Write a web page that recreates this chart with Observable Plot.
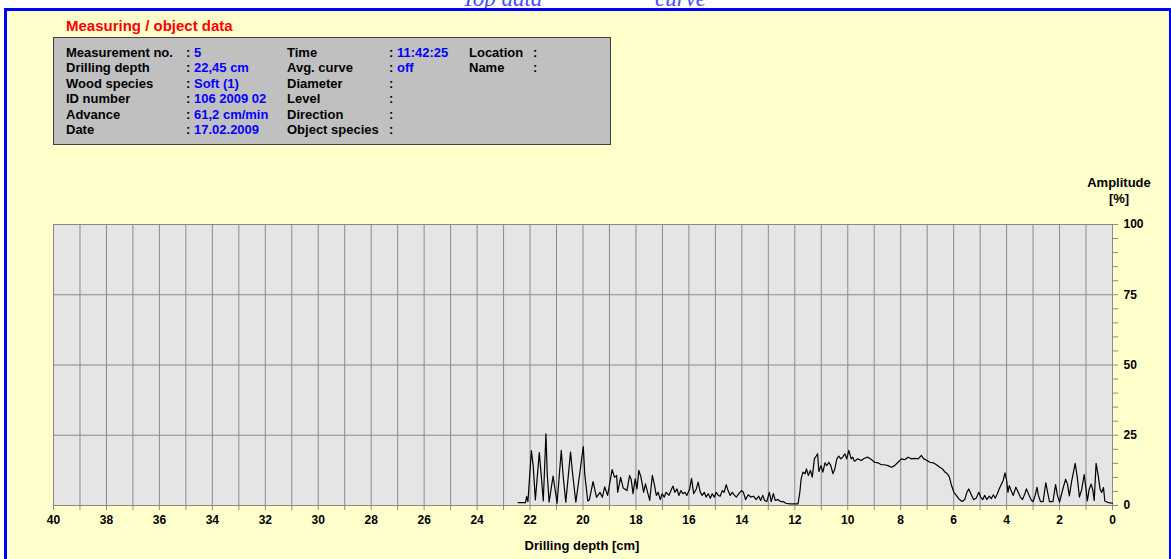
<!DOCTYPE html>
<html>
<head>
<meta charset="utf-8">
<script src="https://cdn.jsdelivr.net/npm/d3@7"></script>
<script src="https://cdn.jsdelivr.net/npm/@observablehq/plot@0.6"></script>
<style>
  html, body { margin: 0; padding: 0; background: #fff; }
  #page { position: relative; width: 1171px; height: 559px; overflow: hidden; background: #fff;
          font-family: "Liberation Sans", Arial, sans-serif; font-weight: bold; }
  #header { position: absolute; top: -13px; left: 0; width: 100%; font-family: "Liberation Serif", "Times New Roman", serif;
            font-style: italic; font-weight: normal; font-size: 23px; line-height: 23px; color: #4a4aff; white-space: nowrap; }
  #header span { position: absolute; }
  #panel { position: absolute; left: 4px; top: 8px; right: 0; bottom: -4px; background: #ffffcc;
           border-left: 3px solid #0000ff; border-top: 3px solid #0000ff; border-right: 2px solid #0000ff; }
  #chart { position: absolute; left: 0; top: 0; }
  #title { position: absolute; left: 66px; top: 17px; font-size: 15px; line-height: 18px; color: #ff0000; }
  #infobox { position: absolute; left: 53px; top: 37px; width: 556px; height: 106px; background: #c0c0c0;
             border: 1px solid #404040; }
  .col { position: absolute; top: 45px; font-size: 13px; line-height: 15.4px; white-space: pre; color: #000; }
  .col.val { color: #0000ff; }
  .axlabel { position: absolute; font-size: 13px; line-height: 15px; color: #000; text-align: center; white-space: nowrap; }
</style>
</head>
<body>
<div id="page">
  <div id="header"></div>
  <div id="panel"></div>
  <div id="chart"></div>
  <div id="title"></div>
  <div id="infobox"></div>
</div>
<script>
// Drilling resistance profile: depth (cm) and amplitude (%) at the turning points of the curve
const depthCm = [
  22.45, 22.17, 22.13, 22.08, 21.95, 21.88, 21.80, 21.65, 21.58, 21.50, 21.40, 21.35, 21.28, 21.13, 20.98,
  20.82, 20.75, 20.65, 20.47, 20.40, 20.27, 20.10, 19.99, 19.93, 19.82, 19.76, 19.62, 19.49, 19.36, 19.27,
  19.18, 19.07, 18.96, 18.90, 18.81, 18.73, 18.69, 18.58, 18.48, 18.34, 18.24, 18.18, 18.11, 18.03, 17.96,
  17.89, 17.81, 17.71, 17.64, 17.56, 17.48, 17.38, 17.31, 17.23, 17.16, 17.08, 17.01, 16.93, 16.86, 16.75,
  16.68, 16.60, 16.53, 16.45, 16.38, 16.30, 16.23, 16.15, 16.08, 15.97, 15.90, 15.82, 15.72, 15.65, 15.57,
  15.50, 15.42, 15.35, 15.27, 15.19, 15.12, 15.04, 14.97, 14.89, 14.82, 14.74, 14.67, 14.59, 14.52, 14.44,
  14.36, 14.29, 14.21, 14.11, 14.01, 13.94, 13.86, 13.76, 13.66, 13.56, 13.46, 13.36, 13.29, 13.21, 13.14,
  13.06, 12.96, 12.89, 12.81, 12.74, 12.64, 12.54, 12.44, 12.34, 12.19, 12.00, 11.88, 11.81, 11.76, 11.69,
  11.61, 11.56, 11.49, 11.41, 11.34, 11.26, 11.19, 11.14, 11.09, 11.01, 10.94, 10.86, 10.79, 10.71, 10.64,
  10.56, 10.49, 10.41, 10.34, 10.26, 10.19, 10.11, 10.04, 9.96, 9.87, 9.81, 9.75, 9.62, 9.49, 9.37,
  9.24, 9.11, 8.99, 8.86, 8.73, 8.61, 8.48, 8.35, 8.23, 8.10, 7.97, 7.85, 7.72, 7.59, 7.47,
  7.34, 7.22, 7.13, 7.00, 6.90, 6.77, 6.65, 6.52, 6.42, 6.33, 6.24, 6.16, 6.08, 5.99, 5.88,
  5.78, 5.68, 5.58, 5.50, 5.43, 5.35, 5.25, 5.15, 5.05, 4.98, 4.90, 4.83, 4.75, 4.65, 4.58,
  4.50, 4.43, 4.35, 4.28, 4.19, 4.13, 4.06, 4.00, 3.95, 3.90, 3.83, 3.75, 3.65, 3.56, 3.48,
  3.40, 3.31, 3.25, 3.15, 3.06, 3.00, 2.92, 2.85, 2.80, 2.72, 2.62, 2.52, 2.45, 2.38, 2.25,
  2.15, 2.08, 2.00, 1.86, 1.77, 1.70, 1.63, 1.54, 1.41, 1.33, 1.25, 1.16, 1.07, 1.00, 0.95,
  0.88, 0.81, 0.75, 0.69, 0.62, 0.53, 0.47, 0.41, 0.34, 0.29, 0.15, 0.00
];
const amplitudePct = [
  1.0, 1.0, 3.2, 1.4, 19.5, 14.0, 2.0, 18.8, 11.0, 1.6, 25.5, 11.0, 1.2, 10.5, 0.8,
  19.6, 10.5, 1.2, 19.0, 11.9, 1.2, 13.0, 21.0, 10.7, 1.6, 2.0, 8.5, 2.9, 4.7, 2.9,
  6.6, 3.6, 9.5, 12.8, 10.0, 10.7, 4.7, 10.0, 6.2, 5.3, 10.7, 9.3, 4.2, 9.5, 5.9,
  12.5, 10.1, 4.7, 7.7, 4.7, 1.8, 10.7, 7.7, 3.6, 4.7, 2.1, 4.2, 3.0, 4.7, 3.6,
  5.3, 6.9, 4.7, 5.9, 3.6, 5.3, 4.2, 4.7, 3.6, 5.9, 9.7, 4.2, 5.9, 8.3, 4.7,
  3.6, 4.7, 3.0, 4.2, 2.6, 4.2, 3.0, 4.7, 3.6, 3.3, 5.3, 4.7, 7.4, 5.3, 3.6,
  4.7, 3.8, 3.0, 4.2, 5.3, 4.7, 2.1, 3.8, 3.0, 3.3, 2.1, 3.3, 1.8, 3.6, 1.8,
  1.4, 4.7, 1.4, 4.2, 1.8, 2.1, 1.4, 1.4, 0.8, 0.6, 0.6, 0.6, 4.7, 9.5, 11.9,
  11.3, 13.0, 10.7, 12.5, 10.1, 16.6, 17.6, 18.4, 12.1, 14.2, 11.9, 15.2, 14.2, 15.4, 14.2,
  11.3, 13.0, 16.6, 17.6, 16.6, 17.2, 18.4, 16.6, 19.6, 16.6, 17.2, 15.7, 16.6, 16.0, 16.8,
  17.2, 16.4, 15.4, 15.2, 14.5, 14.5, 14.2, 13.6, 14.2, 15.4, 16.6, 16.3, 17.2, 16.6, 16.8,
  16.6, 17.8, 16.6, 16.0, 15.4, 15.2, 14.5, 13.6, 13.0, 11.9, 11.3, 10.1, 7.1, 4.7, 3.3,
  2.1, 1.4, 2.1, 4.7, 5.9, 4.2, 2.1, 2.6, 4.7, 3.0, 2.1, 3.6, 2.1, 3.3, 2.4,
  3.8, 2.6, 4.2, 5.9, 7.7, 8.9, 11.6, 8.9, 4.7, 7.1, 5.3, 3.6, 6.5, 4.7, 3.0,
  2.1, 4.2, 5.9, 3.6, 1.8, 1.4, 3.6, 6.5, 3.6, 1.4, 1.4, 8.1, 4.7, 1.4, 1.4,
  7.4, 3.6, 1.2, 6.4, 9.4, 7.6, 3.4, 8.8, 15.0, 10.0, 3.0, 5.8, 11.0, 6.0, 1.6,
  5.8, 7.6, 5.8, 1.8, 15.0, 10.0, 5.8, 4.6, 6.4, 1.6, 1.0, 0.8
];

// Axis ticks
const xGridCm = d3.range(0, 41, 1);        // one line per centimetre
const xLabelStepCm = 2;                     // labels every 2 cm
const yTicksPct = d3.range(0, 101, 5);      // small marks every 5 %
const yGridPct = [25, 50, 75];
const yLabelStepPct = 25;

// Measuring / object data panel
const panelTitle = "Measuring / object data";
const labelsA = ["Measurement no.", "Drilling depth", "Wood species", "ID number", "Advance", "Date"];
const valuesA = ["5", "22,45 cm", "Soft (1)", "106 2009 02", "61,2 cm/min", "17.02.2009"];
const labelsB = ["Time", "Avg. curve", "Diameter", "Level", "Direction", "Object species"];
const valuesB = ["11:42:25", "off", "", "", "", ""];
const labelsC = ["Location", "Name"];
const headerWords = ["Top data", "curve"];

const points = depthCm.map((d, i) => ({depth: d, amp: amplitudePct[i]}));

const chart = Plot.plot({
  width: 1171,
  height: 559,
  marginLeft: 53,
  marginRight: 59,
  marginTop: 224,
  marginBottom: 54,
  style: {background: "none", fontFamily: "'Liberation Sans', Arial, sans-serif", fontSize: "12px", fontWeight: "bold", color: "#000"},
  x: {domain: [40, 0]},
  y: {domain: [0, 100]},
  marks: [
    Plot.frame({fill: "#e5e5e5"}),
    Plot.gridX({ticks: xGridCm, stroke: "#8a8a8a", strokeOpacity: 1}),
    Plot.gridY({ticks: yGridPct, stroke: "#8a8a8a", strokeOpacity: 1}),
    Plot.frame({stroke: "#8a8a8a"}),
    Plot.axisX({ticks: xGridCm, tickSize: 5, tickPadding: 5, stroke: "#8a8a8a", fill: "#000",
      tickFormat: d => d % xLabelStepCm ? "" : String(d), label: null}),
    Plot.axisY({ticks: yTicksPct, anchor: "right", tickSize: 5, tickPadding: 6, stroke: "#8a8a8a", fill: "#000",
      tickFormat: d => d % yLabelStepPct ? "" : String(d), label: null}),
    Plot.line(points, {x: "depth", y: "amp", stroke: "#000", strokeWidth: 1.2})
  ]
});
document.getElementById("chart").appendChild(chart);

const page = document.getElementById("page");
function addText(parent, cls, text, left, top, extra) {
  const el = document.createElement("div");
  el.className = cls;
  el.textContent = text;
  el.style.left = left + "px";
  if (top != null) el.style.top = top + "px";
  if (extra) Object.assign(el.style, extra);
  parent.appendChild(el);
  return el;
}

// header line running off the top edge, above the frame
const header = document.getElementById("header");
[[462, headerWords[0]], [655, headerWords[1]]].forEach(([x, t]) => {
  const s = document.createElement("span");
  s.textContent = t;
  s.style.left = x + "px";
  header.appendChild(s);
});

document.getElementById("title").textContent = panelTitle;

addText(page, "col", labelsA.join("\n"), 66);
addText(page, "col", labelsA.map(() => ":").join("\n"), 186);
addText(page, "col val", valuesA.join("\n"), 194);
addText(page, "col", labelsB.join("\n"), 287);
addText(page, "col", labelsB.map(() => ":").join("\n"), 389);
addText(page, "col val", valuesB.join("\n"), 397);
addText(page, "col", labelsC.join("\n"), 469);
addText(page, "col", labelsC.map(() => ":").join("\n"), 533);

// axis titles
addText(page, "axlabel", "Amplitude", 1119, 175, {transform: "translateX(-50%)"});
addText(page, "axlabel", "[%]", 1119, 191, {transform: "translateX(-50%)"});
addText(page, "axlabel", "Drilling depth [cm]", 582, 538, {transform: "translateX(-50%)"});
</script>
</body>
</html>
